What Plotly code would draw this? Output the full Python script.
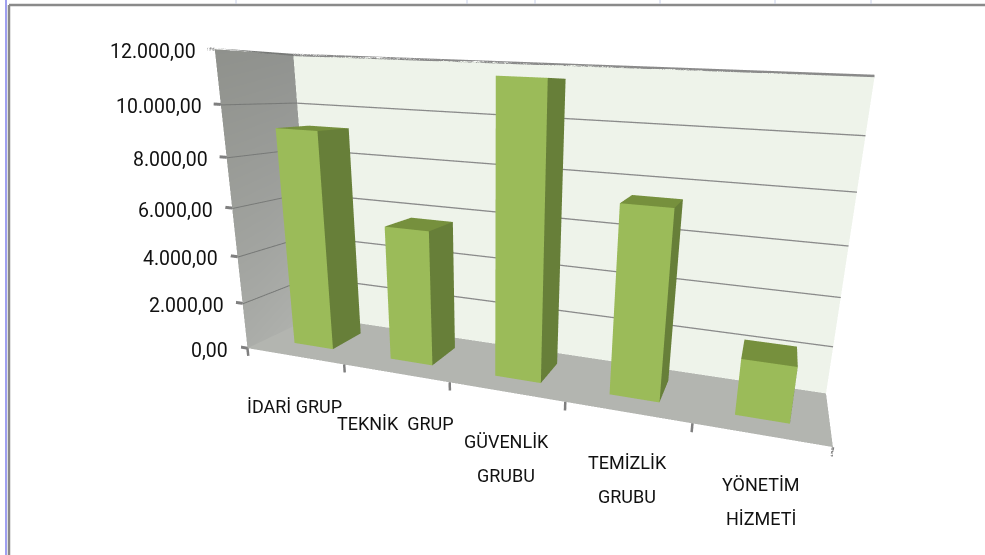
import plotly.graph_objects as go

categories = [["İDARİ GRUP"], ["TEKNİK  GRUP"], ["GÜVENLİK", "GRUBU"], ["TEMİZLİK", "GRUBU"], ["YÖNETİM", "HİZMETİ"]]
values = [9135, 5611, 11476, 7363, 2196]
ticks = [0, 2000, 4000, 6000, 8000, 10000, 12000]
tick_labels = ["0,00", "2.000,00", "4.000,00", "6.000,00", "8.000,00", "10.000,00", "12.000,00"]

W, H = 985, 555
ZMAX = 12000
N = len(values)
BAR_HALF = 0.205
D0, D1 = 0.277, 0.743
XPAD, ZPAD = 0.07, 350     # room in the axis ranges for the tick marks
A = dict(x=2.0099, y=0.3669, z=1.0243)
EYE = dict(x=0.7623, y=-2.0227, z=0.46)
CENTER = dict(x=0.1856, y=0.1075, z=-0.1825)
UP = dict(x=-0.1143, y=0.2584, z=0.9593)
FONT_Y = dict(family="Roboto, sans-serif", size=19.5, color="#111111")
FONT_X = dict(family="Roboto, sans-serif", size=18, color="#111111")

fig = go.Figure()
FLAT = dict(ambient=1, diffuse=0, specular=0, fresnel=0, roughness=1)


def quads(qs, color, vertexcolor=None):
    xs, ys, zs, i, j, k = [], [], [], [], [], []
    for q in qs:
        b = len(xs)
        for p in q:
            xs.append(p[0]); ys.append(p[1]); zs.append(p[2])
        i += [b, b]; j += [b + 1, b + 2]; k += [b + 2, b + 3]
    kw = dict(vertexcolor=vertexcolor) if vertexcolor else dict(color=color)
    fig.add_trace(go.Mesh3d(x=xs, y=ys, z=zs, i=i, j=j, k=k, lighting=FLAT, flatshading=True,
                            hoverinfo="skip", showscale=False, **kw))


def lines(segs, color="#7f7f7f", width=2):
    xs, ys, zs = [], [], []
    for a, b in segs:
        xs += [a[0], b[0], None]; ys += [a[1], b[1], None]; zs += [a[2], b[2], None]
    fig.add_trace(go.Scatter3d(x=xs, y=ys, z=zs, mode="lines", line=dict(color=color, width=width),
                               hoverinfo="skip", showlegend=False))


# walls and floor
quads([[(0, 1, 0), (N, 1, 0), (N, 1, ZMAX), (0, 1, ZMAX)]], "#EEF3EA")
quads([[(0, 0, 0), (0, 1, 0), (0, 1, ZMAX), (0, 0, ZMAX)]], None,
      vertexcolor=["#ABADA9", "#B0B2AE", "#919390", "#8F918C"])
quads([[(0, 0, 0), (N, 0, 0), (N, 1, 0), (0, 1, 0)]], "#B3B5B0")

# gridlines
lines([((0, 1, t), (N, 1, t)) for t in ticks[1:]], "#8a8a8a", 5)
lines([((0, 0, t), (0, 1, t)) for t in ticks[1:]], "#777977", 4)

# axis tick marks
lines([((0, 0, t), (-XPAD, 0, t)) for t in ticks], "#7f7f7f", 6)
lines([((k, 0, 0), (k, 0, -ZPAD)) for k in range(N + 1)], "#7f7f7f", 5)

# bars
for idx, v in enumerate(values):
    x0, x1 = idx + 0.5 - BAR_HALF, idx + 0.5 + BAR_HALF
    quads([[(x0, D0, 0), (x1, D0, 0), (x1, D0, v), (x0, D0, v)]], "#9BBB59")
    quads([[(x1, D0, 0), (x1, D1, 0), (x1, D1, v), (x1, D0, v)]], "#677F39")
    quads([[(x0, D0, v), (x1, D0, v), (x1, D1, v), (x0, D1, v)]], "#76903D")

annotations = []
for t, lab in zip(ticks, tick_labels):
    annotations.append(dict(x=0, y=0, z=t, text=lab, showarrow=False, xanchor="right", xshift=-17, yshift=-2, font=FONT_Y))
for idx, lab in enumerate(categories):
    for ln, s in enumerate(lab):
        annotations.append(dict(x=idx + 0.5, y=0, z=0, text=s, showarrow=False, yshift=-50 - 34 * ln, font=FONT_X))

# the padded ranges keep the same data-to-scene scale as the fitted box
sx = A["x"] / N
sz = A["z"] / ZMAX
dx = XPAD / 2 * sx
dz = ZPAD / 2 * sz
shift = lambda p: dict(x=p["x"] + dx, y=p["y"], z=p["z"] + dz)

axis = dict(visible=False, showspikes=False)
fig.update_layout(
    width=W, height=H, margin=dict(l=0, r=0, t=0, b=0), showlegend=False,
    paper_bgcolor="white",
    scene=dict(
        domain=dict(x=[195 / W, 1], y=[0, 1]),
        xaxis=dict(range=[-XPAD, N], **axis), yaxis=dict(range=[0, 1], **axis), zaxis=dict(range=[-ZPAD, ZMAX], **axis),
        aspectmode="manual",
        aspectratio=dict(x=A["x"] * (N + XPAD) / N, y=A["y"], z=A["z"] * (ZMAX + ZPAD) / ZMAX),
        camera=dict(eye=shift(EYE), center=shift(CENTER), up=UP),
        annotations=annotations,
    ),
    shapes=[
        dict(type="line", xref="paper", yref="paper", x0=9 / W, x1=1, y0=1 - 5 / H, y1=1 - 5 / H, line=dict(color="#8A8A8A", width=2.5)),
        dict(type="line", xref="paper", yref="paper", x0=9 / W, x1=9 / W, y0=0, y1=1 - 5 / H, line=dict(color="#8A8A8A", width=2.5)),
        dict(type="line", xref="paper", yref="paper", x0=6 / W, x1=6 / W, y0=0, y1=1, line=dict(color="#4040E0", width=1)),
    ] + [dict(type="line", xref="paper", yref="paper", x0=px / W, x1=px / W, y0=1 - 4 / H, y1=1, line=dict(color="#C8D0E8", width=1))
         for px in (236, 467, 535, 660, 775, 871)],
)
fig.write_html("out.html", config={"displayModeBar": False}, post_script="document.body.style.margin='0';")
